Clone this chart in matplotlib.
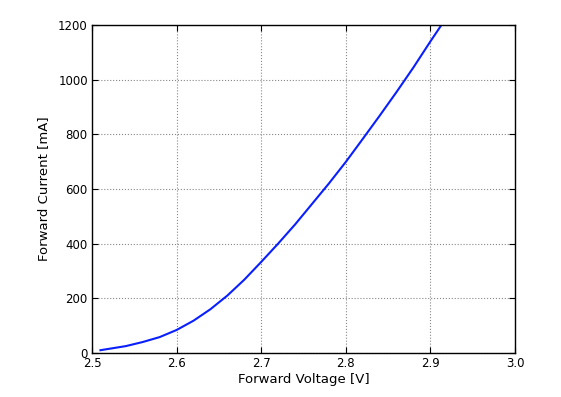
"""
# LED forward I-V curve
"""

import numpy as np
import matplotlib
matplotlib.use("Agg")
import matplotlib.pyplot as plt

# Values
voltage = [2.51, 2.52, 2.54, 2.56, 2.58, 2.60, 2.62, 2.64, 2.66, 2.68, 2.70,
           2.72, 2.74, 2.76, 2.78, 2.80, 2.82, 2.84, 2.86, 2.88, 2.90, 2.92]
current = [10, 15, 25, 40, 58, 84, 118, 160, 210, 268, 333,
           400, 470, 545, 620, 699, 783, 868, 955, 1045, 1140, 1232]

x_ticks = [2.5, 2.6, 2.7, 2.8, 2.9, 3.0]
y_ticks = [0, 200, 400, 600, 800, 1000, 1200]

fig = plt.figure(figsize=(5.61, 3.97), dpi=100, facecolor="white")
ax = fig.add_axes([0.164, 0.111, 0.754, 0.826])

ax.plot(voltage, current, color="#0a1fff", linewidth=1.5)

ax.set_xlim(2.5, 3.0)
ax.set_ylim(0, 1200)
ax.set_xticks(x_ticks)
ax.set_xticklabels([f"{t:.1f}" for t in x_ticks])
ax.set_yticks(y_ticks)

ax.grid(True, color="#888888", linestyle=":", linewidth=0.8)
ax.tick_params(direction="in", top=True, right=True, length=4,
               labelsize=8.5, pad=3)
for s in ax.spines.values():
    s.set_linewidth(1.0)

ax.set_xlabel("Forward Voltage [V]", fontsize=9.5, labelpad=2)
ax.set_ylabel("Forward Current [mA]", fontsize=9.5, labelpad=6)

fig.savefig("out.png", dpi=100)
